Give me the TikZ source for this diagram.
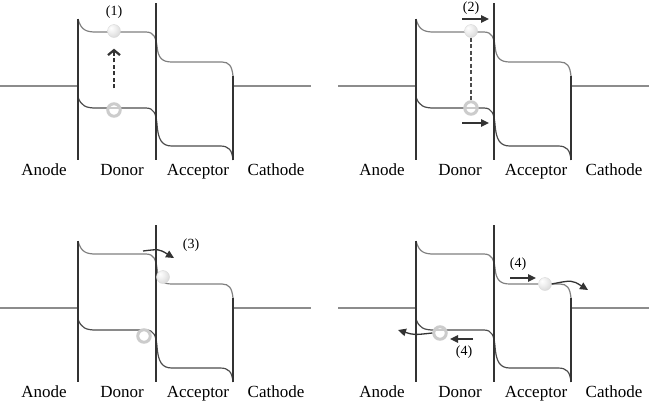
\documentclass[tikz,border=0pt]{standalone}
\usepackage{fontspec}
\setmainfont{Liberation Serif}
\usepackage{tikz}
\usetikzlibrary{arrows.meta, positioning, calc}

% soft grey ball for the electrons
\pgfdeclareradialshading{pearl}{\pgfpoint{-12bp}{12bp}}{%
  color(0bp)=(white); color(15bp)=(black!6); color(35bp)=(black!16); color(50bp)=(black!30); color(70bp)=(black!35)}

\begin{document}
\begin{tikzpicture}[
      x=1pt, y=-1pt,
      wall/.style={draw=black!80, line width=1.5pt},
      lead/.style={draw=black!45, line width=1.3pt},
      lumo/.style={draw=black!50, line width=1.2pt},
      homo/.style={draw=black!70, line width=1.2pt},
      layer/.style={anchor=base, font=\fontsize{17}{19}\selectfont},
      stagelabel/.style={font=\fontsize{14}{16}\selectfont},
      electron/.style={circle, minimum size=13pt, inner sep=0pt, shading=pearl, draw=black!15, line width=0.4pt},
      hole/.style={circle, minimum size=12.5pt, inner sep=0pt, draw=black!20, line width=3pt, fill=white, fill opacity=0.55, draw opacity=1},
      arrow/.style={-{Triangle[length=8pt, width=7.5pt]}, draw=black!80, line width=1.3pt},
      updash/.style={-{Straight Barb[length=5pt, width=12pt, line width=2.2pt]}, draw=black!80, line width=1.1pt, dash pattern=on 4pt off 2.5pt},
      pairdash/.style={draw=black!70, line width=1.2pt, dash pattern=on 4pt off 2.5pt}
  ]
      \useasboundingbox (0,0) rectangle (650,400);

      % Band diagrams, one per panel
      \foreach \i/\dx/\dy in {1/0/0, 2/338/0, 3/0/222, 4/338/222}{
        \begin{scope}[shift={(\dx,\dy)}]
          \draw[lead] (0,86) -- (78,86);
          \draw[lead] (233,86) -- (311,86);
          \draw[lumo] (78,19) .. controls (81,30) and (86,32) .. (96,32) -- (146,32)
                .. controls (154,32) and (156,38) .. (157,46)
                .. controls (158,58) and (162,62) .. (172,62) -- (222,62)
                .. controls (229,62) and (232,66) .. (233,76);
          \draw[homo] (78,97) .. controls (81,106) and (86,108) .. (96,108) -- (146,108)
                .. controls (154,108) and (156,114) .. (157,124)
                .. controls (158,140) and (162,146) .. (172,146) -- (220,146)
                .. controls (229,146) and (232,150) .. (233,160);
          \draw[wall] (78,19) -- (78,160);
          \draw[wall] (156,3) -- (156,160);
          \draw[wall] (233,76) -- (233,160);
          \node[layer] (anode\i) at (44,175) {Anode};
          \node[layer] (donor\i) at (122,175) {Donor};
          \node[layer] (acceptor\i) at (198,175) {Acceptor};
          \node[layer] (cathode\i) at (276,175) {Cathode};
        \end{scope}
      }

      % (1) exciton generation
      \node[electron] (e1) at (114,31) {};
      \node[hole] (h1) at (114,110) {};
      \node[stagelabel, above=2pt of e1] (s1) {(1)};
      \draw[updash] ([yshift=14pt]h1.north) -- ([yshift=-11pt]e1.south);

      % (2) exciton diffusion
      \begin{scope}[shift={(338,0)}]
        \node[electron] (e2) at (133,31) {};
        \node[hole] (h2) at (133,108) {};
        \draw[pairdash] (e2) -- (h2);
        \coordinate (a2) at (124,19);
        \coordinate (b2) at (151,19);
        \coordinate (c2) at (124,123);
        \coordinate (d2) at (151,123);
        \node[stagelabel] (s2) at (133,8) {(2)};
        \draw[arrow] (a2) -- (b2);
        \draw[arrow] (c2) -- (d2);
      \end{scope}

      % (3) charge separation
      \begin{scope}[shift={(0,222)}]
        \node[electron] (e3) at (163,55) {};
        \node[hole] (h3) at (144,114) {};
        \coordinate (a3) at (143,29);
        \coordinate (b3) at (174,36);
        \draw[arrow] (a3) .. controls (159,27) .. (b3);
        \node[stagelabel] (s3) at (191,23) {(3)};
      \end{scope}

      % (4) charge transport
      \begin{scope}[shift={(338,222)}]
        \node[electron] (e4) at (207,62) {};
        \node[hole] (h4) at (102,111) {};
        \coordinate (a4) at (172,56);
        \coordinate (b4) at (198,56);
        \coordinate (c4) at (250,68);
        \coordinate (d4) at (135,117);
        \coordinate (f4) at (112,117);
        \coordinate (g4) at (60,108);
        \node[stagelabel] (s4) at (180,42) {(4)};
        \node[stagelabel] (t4) at (126,130) {(4)};
        \draw[arrow] (a4) -- (b4);
        \draw[arrow] (e4.east) .. controls (234,58) .. (c4);
        \draw[arrow] (d4) -- (f4);
        \draw[arrow] (h4.west) .. controls (76,113) .. (g4);
      \end{scope}
  \end{tikzpicture}
\end{document}
